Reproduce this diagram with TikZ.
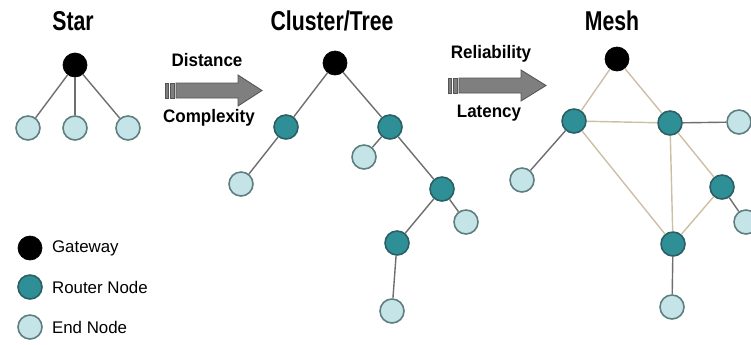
\documentclass[tikz,border=0pt]{standalone}
\usepackage{fontspec}
\setmainfont{Liberation Sans}
\newfontfamily\titlefont[FakeStretch=0.78]{Liberation Sans}
\newfontfamily\arrowfont[FakeStretch=0.94]{Liberation Sans}
\usetikzlibrary{positioning}

\definecolor{routerfill}{HTML}{2E9096}
\definecolor{routerline}{HTML}{2A5F63}
\definecolor{endfill}{HTML}{C4E4E7}
\definecolor{endline}{HTML}{5E7E80}
\definecolor{linkgray}{HTML}{6E6E6E}
\definecolor{meshlink}{HTML}{CDBFA6}
\definecolor{arrowfill}{HTML}{7F7F7F}
\definecolor{arrowline}{HTML}{555555}

\tikzset{
  gw/.style={circle, draw=black, fill=black, minimum size=0.48cm, inner sep=0pt},
  router/.style={circle, draw=routerline, fill=routerfill, line width=0.9pt, minimum size=0.48cm, inner sep=0pt},
  endnode/.style={circle, draw=endline, fill=endfill, line width=0.9pt, minimum size=0.48cm, inner sep=0pt},
  link/.style={draw=linkgray, line width=0.8pt},
  mlink/.style={draw=meshlink, line width=0.8pt},
  title/.style={font=\titlefont\bfseries\fontsize{15.5}{17}\selectfont},
  arrowlabel/.style={font=\arrowfont\bfseries\fontsize{10.3}{12}\selectfont},
  legendtext/.style={font=\fontsize{9.6}{11}\selectfont, anchor=west, inner sep=1pt},
  bigarrow/.style={fill=arrowfill, draw=arrowline, line width=0.5pt}
}

\begin{document}
\begin{tikzpicture}[x=0.02cm, y=-0.02cm]
  \useasboundingbox (0,0) rectangle (751,345);

  % titles
  \node[title] (tstar) at (73,21) {Star};
  \node[title] (ttree) at (332,21) {Cluster/Tree};
  \node[title] (tmesh) at (612,21) {Mesh};

  % star
  \node[gw] (sG) at (75,65) {};
  \node[endnode] (sE1) at (28,128) {};
  \node[endnode] (sE2) at (75,128) {};
  \node[endnode] (sE3) at (128,128) {};
  \draw[link] (sG) -- (sE1);
  \draw[link] (sG) -- (sE2);
  \draw[link] (sG) -- (sE3);

  % first arrow
  \filldraw[bigarrow] (165,83) rectangle (168,98);
  \filldraw[bigarrow] (170,83) rectangle (174,98);
  \filldraw[bigarrow] (176,83) -- (238,83) -- (238,75) -- (262,90.5)
    -- (238,106) -- (238,98) -- (176,98) -- cycle;
  \node[arrowlabel] (dist) at (207,60) {Distance};
  \node[arrowlabel] (cplx) at (209,118) {Complexity};

  % cluster / tree
  \node[gw] (tG) at (335,63) {};
  \node[router] (tR1) at (286,127) {};
  \node[router] (tR2) at (390,127) {};
  \node[endnode] (tE1) at (241,184) {};
  \node[endnode] (tE2) at (364,157) {};
  \node[router] (tR3) at (442,189) {};
  \node[endnode] (tE3) at (466,222) {};
  \node[router] (tR4) at (397,243) {};
  \node[endnode] (tE4) at (392,311) {};
  \draw[link] (tG) -- (tR1);
  \draw[link] (tG) -- (tR2);
  \draw[link] (tR1) -- (tE1);
  \draw[link] (tR2) -- (tE2);
  \draw[link] (tR2) -- (tR3);
  \draw[link] (tR3) -- (tE3);
  \draw[link] (tR3) -- (tR4);
  \draw[link] (tR4) -- (tE4);

  % second arrow
  \filldraw[bigarrow] (448,78) rectangle (451,93);
  \filldraw[bigarrow] (453,78) rectangle (457,93);
  \filldraw[bigarrow] (459,78) -- (521,78) -- (521,70) -- (546,85.5)
    -- (521,101) -- (521,93) -- (459,93) -- cycle;
  \node[arrowlabel] (relia) at (491,54) {Reliability};
  \node[arrowlabel] (laten) at (489,113) {Latency};

  % mesh
  \node[gw] (mG) at (617,59) {};
  \node[router] (mR1) at (574,121) {};
  \node[router] (mR2) at (670,123) {};
  \node[endnode] (mE1) at (739,122) {};
  \node[endnode] (mE2) at (522,180) {};
  \node[router] (mR3) at (722,187) {};
  \node[endnode] (mE3) at (746,222) {};
  \node[router] (mR4) at (673,244) {};
  \node[endnode] (mE4) at (672,307) {};
  \draw[mlink] (mG) -- (mR1);
  \draw[mlink] (mG) -- (mR2);
  \draw[mlink] (mR1) -- (mR2);
  \draw[mlink] (mR1) -- (mR4);
  \draw[mlink] (mR2) -- (mR4);
  \draw[mlink] (mR2) -- (mR3);
  \draw[mlink] (mR3) -- (mR4);
  \draw[link] (mR2) -- (mE1);
  \draw[link] (mR1) -- (mE2);
  \draw[link] (mR3) -- (mE3);
  \draw[link] (mR4) -- (mE4);

  % legend
  \node[gw] (lG) at (30,248) {};
  \node[router] (lR) at (30,287) {};
  \node[endnode] (lE) at (30,327) {};
  \node[legendtext] (lGt) at (50,248) {Gateway};
  \node[legendtext] (lRt) at (50,287) {Router Node};
  \node[legendtext] (lEt) at (50,327) {End Node};
\end{tikzpicture}
\end{document}
